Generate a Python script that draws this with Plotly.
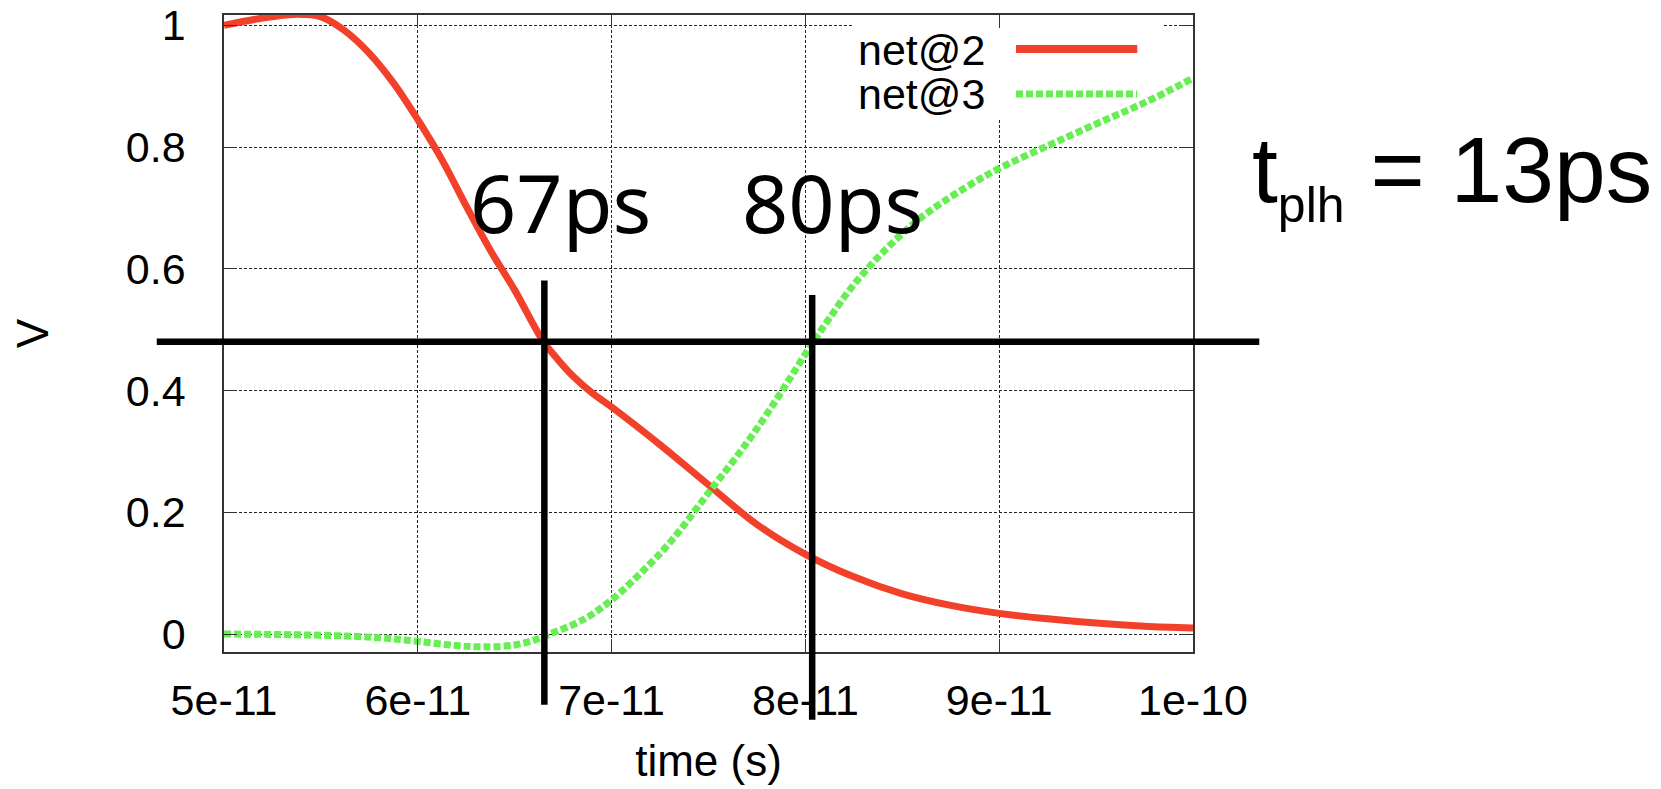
import plotly.graph_objects as go

# ---------------- data ----------------
# net@2 (falling) : time [s], voltage [V]
t_net2 = [5.0e-11, 5.2e-11, 5.36e-11, 5.5e-11, 5.62e-11, 5.75e-11, 5.875e-11, 6.0e-11,
          6.125e-11, 6.25e-11, 6.375e-11, 6.5e-11, 6.645e-11, 6.72e-11, 6.8e-11, 6.9e-11,
          7.0e-11, 7.25e-11, 7.5e-11, 7.75e-11, 8.0e-11, 8.25e-11, 8.5e-11, 8.75e-11,
          9.0e-11, 9.25e-11, 9.5e-11, 9.75e-11, 1.0e-10]
v_net2 = [1.000, 1.012, 1.018, 1.014, 0.992, 0.954, 0.905, 0.845,
          0.779, 0.703, 0.630, 0.565, 0.482, 0.452, 0.424, 0.396,
          0.373, 0.311, 0.245, 0.180, 0.131, 0.094, 0.066, 0.047,
          0.034, 0.025, 0.018, 0.013, 0.010]

# net@3 (rising)
t_net3 = [5.0e-11, 5.5e-11, 5.8e-11, 6.0e-11, 6.2e-11, 6.35e-11, 6.5e-11, 6.6e-11,
          6.68e-11, 6.85e-11, 7.0e-11, 7.15e-11, 7.3e-11, 7.5e-11, 7.7e-11, 7.85e-11,
          7.95e-11, 8.04e-11, 8.12e-11, 8.22e-11, 8.32e-11, 8.44e-11, 8.58e-11, 8.71e-11,
          8.85e-11, 9.0e-11, 9.25e-11, 9.5e-11, 9.75e-11, 1.0e-10]
v_net3 = [0.000, -0.002, -0.006, -0.012, -0.019, -0.021, -0.018, -0.010,
          0.000, 0.023, 0.056, 0.100, 0.150, 0.232, 0.315, 0.385,
          0.435, 0.480, 0.517, 0.562, 0.600, 0.640, 0.680, 0.710,
          0.738, 0.765, 0.802, 0.838, 0.873, 0.913]

series_names = ["net@2", "net@3"]
series_colors = ["#f2412b", "#66ee52"]

# axis ticks
x_tickvals = [5e-11, 6e-11, 7e-11, 8e-11, 9e-11, 1e-10]
x_ticktext = ["5e-11", "6e-11", "7e-11", "8e-11", "9e-11", "1e-10"]
y_tickvals = [0, 0.2, 0.4, 0.6, 0.8, 1]
y_ticktext = ["0", "0.2", "0.4", "0.6", "0.8", "1"]
x_range = [5e-11, 1e-10]
y_range = [-0.0295, 1.017]

# delay measurement markers
threshold_v = 0.48
threshold_x_extent = [4.653e-11, 1.0342e-10]
cross_times = [6.653e-11, 8.035e-11]
cross_labels = ["67ps", "80ps"]
cross_line_top = [0.581, 0.557]
cross_line_bottom = [-0.116, -0.141]
label_pos_x = [6.736e-11, 8.14e-11]
label_pos_y = [0.711, 0.711]
result_text = "t<sub><span style='font-size:50px'>plh</span></sub> = 13ps"


def x_to_paper(v):
    return (v - x_range[0]) / (x_range[1] - x_range[0])


def y_to_paper(v):
    return (v - y_range[0]) / (y_range[1] - y_range[0])


FONT = "Liberation Sans, Arial, sans-serif"

fig = go.Figure()
fig.add_trace(go.Scatter(x=t_net2, y=v_net2, mode="lines", name=series_names[0],
                         line=dict(color=series_colors[0], width=7, shape="spline", smoothing=1.0),
                         showlegend=False, hoverinfo="skip"))
fig.add_trace(go.Scatter(x=t_net3, y=v_net3, mode="lines", name=series_names[1],
                         line=dict(color=series_colors[1], width=7, dash="7px,3px",
                                   shape="spline", smoothing=1.0),
                         showlegend=False, hoverinfo="skip"))

shapes = []
# threshold line (extends beyond plot horizontally)
shapes.append(dict(type="line", xref="paper", yref="y",
                   x0=x_to_paper(threshold_x_extent[0]), x1=x_to_paper(threshold_x_extent[1]),
                   y0=threshold_v, y1=threshold_v, line=dict(color="black", width=6.5),
                   layer="above"))
# crossing markers
for t, top, bot in zip(cross_times, cross_line_top, cross_line_bottom):
    shapes.append(dict(type="line", xref="x", yref="paper", x0=t, x1=t,
                       y0=y_to_paper(bot), y1=y_to_paper(top),
                       line=dict(color="black", width=6.5), layer="above"))

# key (gnuplot style: text left of sample)
key_box_x = [8.24e-11, 9.85e-11]
key_box_y = [0.847, 1.008]
key_rows_y = [0.9446, 0.8758]
key_text_right = 0.7871
key_sample_x = [0.8173, 0.9425]

shapes.append(dict(type="rect", xref="x", yref="y", x0=key_box_x[0], x1=key_box_x[1],
                   y0=key_box_y[0], y1=key_box_y[1], fillcolor="white",
                   line=dict(width=0), layer="between"))
shapes.append(dict(type="line", xref="paper", yref="paper", x0=key_sample_x[0], x1=key_sample_x[1],
                   y0=key_rows_y[0] + 0.002, y1=key_rows_y[0] + 0.002,
                   line=dict(color=series_colors[0], width=8), layer="above"))
shapes.append(dict(type="line", xref="paper", yref="paper", x0=key_sample_x[0], x1=key_sample_x[1],
                   y0=key_rows_y[1], y1=key_rows_y[1],
                   line=dict(color=series_colors[1], width=7, dash="7px,3px"), layer="above"))

annotations = []
for name, ry in zip(series_names, key_rows_y):
    annotations.append(dict(text=name, xref="paper", yref="paper", x=key_text_right, y=ry,
                            xanchor="right", yanchor="middle", showarrow=False,
                            font=dict(family=FONT, size=43, color="black")))
for lbl, lx, ly in zip(cross_labels, label_pos_x, label_pos_y):
    annotations.append(dict(text=lbl, xref="x", yref="y", x=lx, y=ly, xanchor="center",
                            yanchor="middle", showarrow=False,
                            font=dict(family="Noto Sans, DejaVu Sans, sans-serif", size=81, color="black")))
annotations.append(dict(text=result_text, xref="paper", yref="paper", x=1.059, y=0.748,
                        xanchor="left", yanchor="middle", showarrow=False,
                        font=dict(family=FONT, size=93, color="black")))

axis_common = dict(showline=True, linecolor="#333333", linewidth=1.5, mirror="ticks",
                   ticks="inside", ticklen=13, tickcolor="#333333", tickwidth=1.2,
                   showgrid=True, gridcolor="#222222", gridwidth=1, griddash="3px,2px",
                   zeroline=False, automargin=False, ticklabeloverflow="allow",
                   tickfont=dict(family=FONT, size=43, color="black"))

fig.update_layout(
    width=1661, height=789,
    margin=dict(l=216, r=476, t=7, b=145, autoexpand=False),
    paper_bgcolor="white", plot_bgcolor="white",
    shapes=shapes, annotations=annotations,
    showlegend=False,
    xaxis=dict(range=x_range, tickmode="array", tickvals=x_tickvals, ticktext=x_ticktext,
               ticklabelstandoff=10,
               title=dict(text="time (s)", font=dict(family=FONT, size=44, color="black"), standoff=22),
               **axis_common),
    yaxis=dict(range=y_range, tickmode="array", tickvals=y_tickvals, ticktext=y_ticktext,
               ticklabelstandoff=28,
               title=dict(text="V", font=dict(family=FONT, size=44, color="black"), standoff=71),
               **axis_common),
)

fig.write_html("out.html")
